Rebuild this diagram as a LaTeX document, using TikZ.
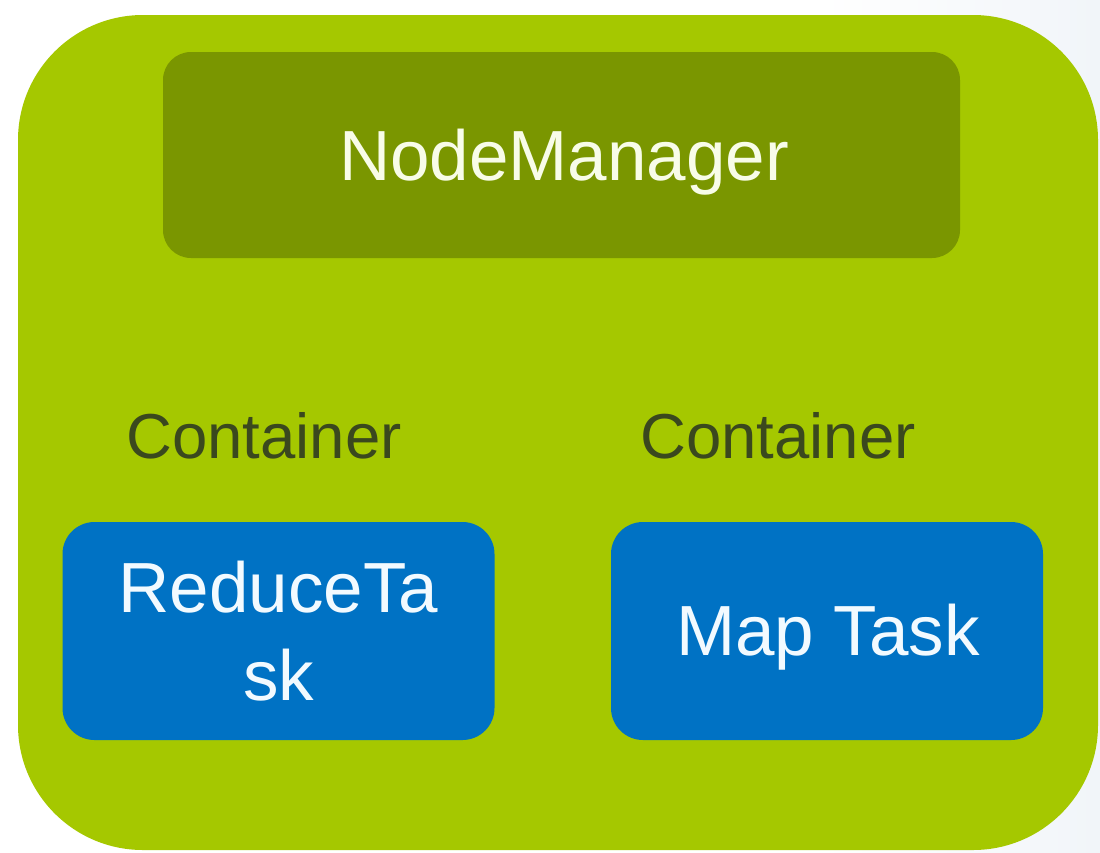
\documentclass[tikz,border=0pt]{standalone}
\usepackage{fontspec}
\setmainfont{Liberation Sans}
\definecolor{outergreen}{RGB}{165,200,0}
\definecolor{nmgreen}{RGB}{122,150,0}
\definecolor{taskblue}{RGB}{0,114,196}
\definecolor{contText}{RGB}{58,72,30}
\definecolor{nmText}{RGB}{248,252,232}
\definecolor{taskText}{RGB}{242,250,255}
\definecolor{bgtint}{RGB}{241,245,249}
\tikzset{
  boxbase/.style={inner sep=0pt, outer sep=0pt},
  outerbox/.style={boxbase, fill=outergreen, minimum width=1080pt, minimum height=835pt, rounded corners=125pt},
  nmbox/.style={boxbase, fill=nmgreen, minimum width=797pt, minimum height=206pt, rounded corners=28pt},
  taskbox/.style={boxbase, fill=taskblue, minimum width=432pt, minimum height=218pt, rounded corners=32pt},
  bigtext/.style={inner sep=0pt, font=\fontsize{71}{88}\selectfont},
  conttext/.style={inner sep=0pt, font=\fontsize{63.5}{76}\selectfont, text=contText, anchor=base},
}
\begin{document}
\begin{tikzpicture}[x=1pt,y=-1pt]
\useasboundingbox (0,0) rectangle (1100,852);
\fill[white] (0,0) rectangle (1100,852);
\shade[left color=white, right color=bgtint] (820,0) rectangle (1100,852);
\node[outerbox] (outer) at (558,432.5) {};
\node[nmbox] (nm) at (561.5,155) {};
\node[bigtext, text=nmText, anchor=base] (nmlabel) at (564,180) {NodeManager};
\node[conttext] (cont1) at (264,458) {Container};
\node[conttext] (cont2) at (778,458) {Container};
\node[taskbox] (reduce) at (278.5,631) {};
\node[taskbox] (map) at (827,631) {};
\node[bigtext, text=taskText, align=center] (reducelabel) at (278.5,631) {ReduceTa\\sk};
\node[bigtext, text=taskText, anchor=base] (maplabel) at (828,655) {Map Task};
\end{tikzpicture}
\end{document}
